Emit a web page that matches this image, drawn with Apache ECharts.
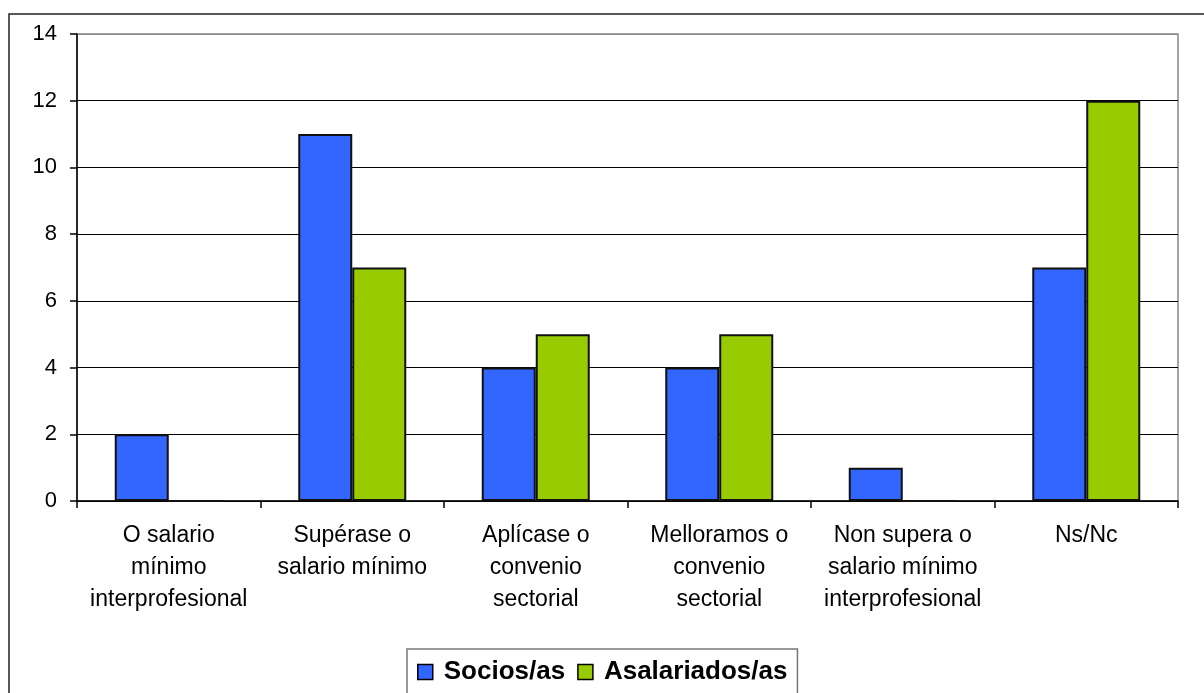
<!DOCTYPE html>
<html>
<head>
<meta charset="utf-8">
<script src="https://cdn.jsdelivr.net/npm/echarts@6/dist/echarts.min.js"></script>
<style>
  html, body { margin: 0; padding: 0; background: #fff; }
  #chart { width: 1204px; height: 693px; }
</style>
</head>
<body>
<div id="chart"></div>
<script>
// datos
const categories = [
  'O salario\nmínimo\ninterprofesional',
  'Supérase o\nsalario mínimo',
  'Aplícase o\nconvenio\nsectorial',
  'Melloramos o\nconvenio\nsectorial',
  'Non supera o\nsalario mínimo\ninterprofesional',
  'Ns/Nc'
]
const seriesNames = ['Socios/as', 'Asalariados/as']
const socios = [2, 11, 4, 4, 1, 7]
const asalariados = [0, 7, 5, 5, 0, 12]
const yTicks = [0, 2, 4, 6, 8, 10, 12, 14]

const chart = echarts.init(document.getElementById('chart'))

const font = 'Arial, "Liberation Sans", sans-serif'

const option = {
  animation: false,
  backgroundColor: '#fff',
  graphic: [
    {
      type: 'rect',
      shape: { x: 9, y: 14, width: 1400, height: 900 },
      style: { fill: 'none', stroke: '#222', lineWidth: 1.5 },
      z: 100
    }
  ],
  grid: {
    left: 77,
    top: 34,
    right: 26,
    bottom: 192,
    show: true,
    borderColor: '#888',
    borderWidth: 1.5
  },
  legend: {
    data: seriesNames,
    left: 407,
    top: 649,
    padding: [10, 10, 40, 10],
    borderColor: '#777',
    borderWidth: 1.5,
    itemWidth: 15,
    itemHeight: 15,
    itemGap: 12,
    icon: 'rect',
    itemStyle: { borderColor: '#000', borderWidth: 1.5 },
    textStyle: { fontFamily: font, fontSize: 26, fontWeight: 'bold', color: '#000', padding: [0, 0, 0, 6] }
  },
  xAxis: {
    type: 'category',
    data: categories,
    axisLine: { lineStyle: { color: '#000', width: 1.5 } },
    axisTick: { show: true, length: 7, lineStyle: { color: '#000', width: 1.5 } },
    axisLabel: {
      interval: 0,
      margin: 19,
      fontFamily: font,
      fontSize: 23,
      lineHeight: 32,
      color: '#000',
      align: 'center'
    }
  },
  yAxis: {
    type: 'value',
    min: yTicks[0],
    max: yTicks[yTicks.length - 1],
    interval: 2,
    axisLine: { show: true, lineStyle: { color: '#000', width: 1.5 } },
    axisTick: { show: true, length: 7, lineStyle: { color: '#000', width: 1.5 } },
    axisLabel: { margin: 20, fontFamily: font, fontSize: 22, color: '#000' },
    splitLine: {
      show: true,
      lineStyle: {
        color: ['#000', '#000', '#000', '#000', '#000', '#000', '#000', '#888'],
        width: 1.2
      }
    }
  },
  series: [
    {
      name: seriesNames[0],
      type: 'bar',
      data: socios,
      barWidth: 54,
      barGap: '0%',
      itemStyle: { color: '#3366FF', borderColor: '#111', borderWidth: 2 }
    },
    {
      name: seriesNames[1],
      type: 'bar',
      data: asalariados,
      barWidth: 54,
      barGap: '0%',
      itemStyle: { color: '#99CC00', borderColor: '#111', borderWidth: 2 }
    }
  ]
}

option && chart.setOption(option)
</script>
</body>
</html>
